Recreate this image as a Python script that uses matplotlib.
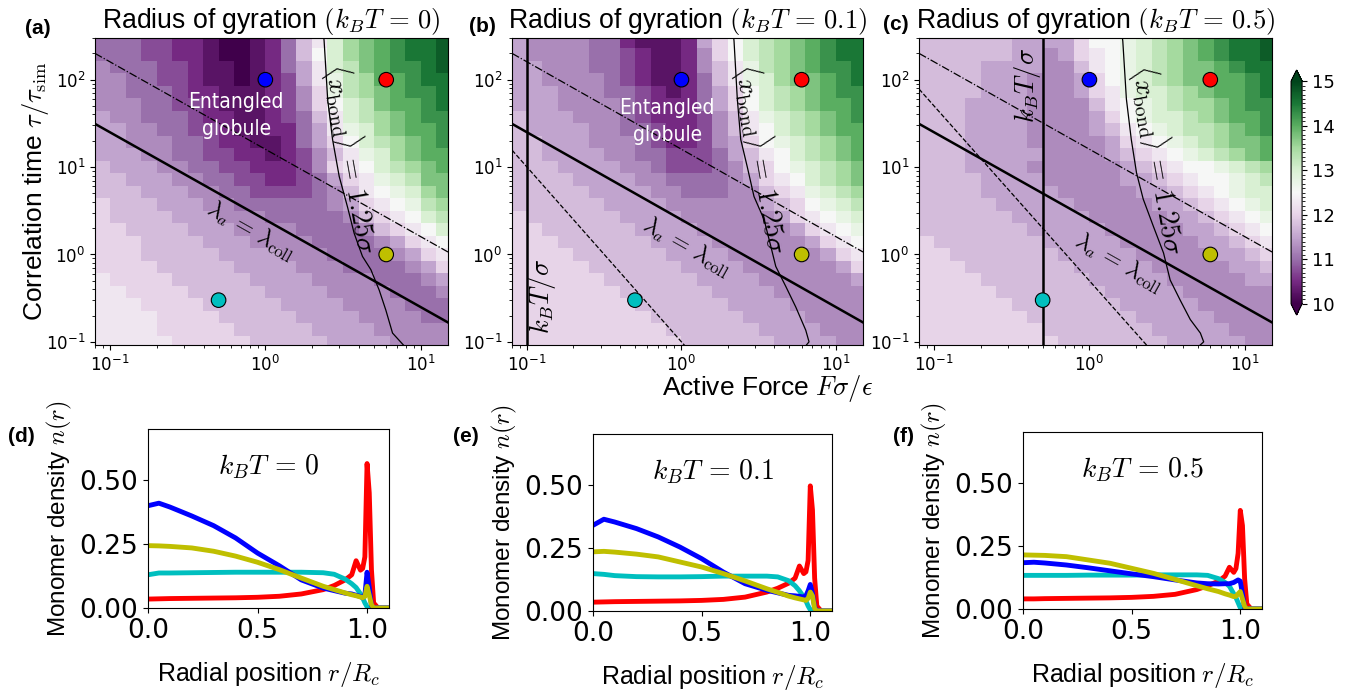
import numpy as np
import matplotlib
matplotlib.use('Agg')
import matplotlib.pyplot as plt
from matplotlib.ticker import MultipleLocator

plt.rcParams['mathtext.fontset'] = 'cm'
plt.rcParams['font.family'] = ['DejaVu Sans']

# ---------------- heatmap data (Rg), one char per cell ----------------
# level code: value = 10 + 0.25 * index in LEVELS
LEVELS = '0123456789ABCDEFGHIJK'
# cell edges (log10): F every 0.1 decade, tau every 1/7 decade
F_edges_log = [-1.1, -1.0, -0.9, -0.8, -0.7, -0.6, -0.5, -0.4, -0.3, -0.2, -0.1, 0.0,
               0.1, 0.2, 0.3, 0.4, 0.5, 0.6, 0.7, 0.8, 0.9, 1.0, 1.1, 1.2]
tau_edges_log = [(2 * k - 15) / 14 for k in range(26)]

# rows from top (tau ~ 270) to bottom (tau ~ 0.1)
rg_T0 = [
    "444332210012479CEFGHIIJ",
    "44433221001247ACEFGHIIJ",
    "544433211012469CDFGHHIJ",
    "554433211012369BDEGGHII",
    "554443221112358BDEFGHHI",
    "555443321112358ACDFGGHI",
    "6554443221123479CDEFGHH",
    "6655443321122469BCEFGGH",
    "6655544322112468ACDEFGH",
    "66655443322123579BCEFGG",
    "76665544332223589ACDEFG",
    "776665544332234689BCDFF",
    "777666554433334579ABCEF",
    "8777666554444445689ABDE",
    "87777666555444445789ACD",
    "887777666555544445789AC",
    "8887777666555544445689A",
    "88877777666655544445689",
    "88887777766665554444568",
    "98888777776666555544456",
    "99888877777666655554445",
    "99988887777766665555444",
    "99998888777776666555544",
    "99998888877777666655555",
    "99999888887777766665555",
]
rg_T01 = [
    "65555442111268ACDEFGHII",
    "65555443211258ACDEFGHII",
    "665554432112579BDEFGHHI",
    "665555432112479BCEFFGHI",
    "666555443212468ACDEFGHH",
    "666555543222468ACDEFGGH",
    "7666555432223579BCDEFGH",
    "7666655443223579ACDEFGG",
    "7766655543223568ABCDEFG",
    "77666655443334679ACDEFG",
    "77766665543334578ABCDEF",
    "777766665544445689ACDEF",
    "7777766665544455789BCDE",
    "7777776666555555678ABCD",
    "87777776666555555689ABC",
    "887777776666555555689AB",
    "8887777776666555555689A",
    "88887777776666555555689",
    "88888777777666655555568",
    "88888877777766665555556",
    "88888887777776666555555",
    "88888888777777666655555",
    "88888888877777766665555",
    "88888888887777776666555",
    "88888888888777777666655",
]
rg_T05 = [
    "77777766668AABCDEFGHIIJ",
    "777777665689ABCDEFGHIIJ",
    "777766665579ABCDEFFGHII",
    "777766655568ABCDEFFGGHI",
    "7777666555689BCCDEFGGHI",
    "7776666555579ABCDEEFGHH",
    "7776666555568ABCCDEFGGH",
    "77766665555679ABCDDEFGH",
    "777666655555689ABCDEFFG",
    "7776666655556789ABCDEFG",
    "77766665555556789AABCDE",
    "777766665555566789AABCD",
    "7777666665555566789ABCC",
    "77777666665555566789ABC",
    "777777666665555566789AB",
    "7777777666665555566789A",
    "87777777666665555566789",
    "88777777766666555556678",
    "88877777776666655555667",
    "88887777777666665555566",
    "88888777777766666555555",
    "88888877777776666655555",
    "88888887777777666665555",
    "88888888777777766666555",
    "88888888877777776666655",
]

# ---------------- lines / contours ----------------
kT_values = [0.0, 0.1, 0.5]
top_titles = [r'Radius of gyration $(k_BT\,=\,0)$',
              r'Radius of gyration $(k_BT\,=\,0.1)$',
              r'Radius of gyration $(k_BT\,=\,0.5)$']
coll_const = 2.5      # lambda_a = lambda_coll : tau = C / F
dashdot_const = 16.0  # tau = C / F

# <x_bond> = 1.25 sigma contour (F, tau)
bond_F_T0 = [2.38, 2.39, 2.52, 2.71, 2.99, 3.38, 3.73, 4.22, 4.78, 5.41, 5.97, 6.59, 7.83]
bond_tau_T0 = [300, 277, 59, 20.6, 7.8, 3.5, 1.75, 0.95, 0.67, 0.39, 0.23, 0.126, 0.09]
bond_F_T01 = [2.18, 2.19, 2.30, 2.42, 2.67, 2.95, 3.43, 3.79, 4.08, 4.74, 5.5, 6.38, 6.7, 6.38]
bond_tau_T01 = [300, 277, 60, 20.7, 10, 4.6, 2.5, 1.24, 0.73, 0.43, 0.25, 0.136, 0.1, 0.09]
bond_F_T05 = [1.63, 1.64, 1.73, 1.86, 2.01, 2.22, 2.58, 3.0, 3.31, 3.84, 4.46, 5.18, 5.44, 5.1]
bond_tau_T05 = [300, 277, 60, 20.7, 8.6, 4.3, 2.1, 1.04, 0.51, 0.3, 0.18, 0.126, 0.1, 0.09]

# selected state points
pts_F = [1.0, 6.0, 6.0, 0.5]
pts_tau = [100, 100, 1.0, 0.3]
pts_col = ['b', 'r', 'y', 'c']

# label positions
bond_lbl = [(3.6, 12.5), (3.32, 12.5), (2.8, 12.2)]
coll_lbl = [(0.8, 1.85), (1.08, 1.2), (1.54, 0.8)]
kT_lbl = [None, (0.126, 0.33), (0.40, 85)]
glob_lbl = [(0.65, 39), (0.81, 33), None]

# ---------------- density profiles ----------------
r_pts = [0, 0.05, 0.1, 0.2, 0.3, 0.4, 0.5, 0.6, 0.7, 0.8, 0.85, 0.9, 0.93, 0.95,
         0.97, 0.98, 0.99, 1.0, 1.01, 1.02, 1.03, 1.05, 1.1]
dens_T0 = {
    'r': [0.035, 0.036, 0.037, 0.038, 0.039, 0.040, 0.042, 0.046, 0.055, 0.072, 0.088, 0.11,
          0.13, 0.185, 0.148, 0.155, 0.20, 0.565, 0.45, 0.15, 0.02, 0.0, 0.0],
    'c': [0.13, 0.137, 0.137, 0.138, 0.139, 0.14, 0.14, 0.14, 0.14, 0.138, 0.132, 0.113,
          0.095, 0.08, 0.055, 0.04, 0.02, 0.005, 0.0, 0.0, 0.0, 0.0, 0.0],
    'b': [0.40, 0.41, 0.395, 0.36, 0.322, 0.274, 0.215, 0.165, 0.11, 0.078, 0.068, 0.058,
          0.055, 0.05, 0.045, 0.04, 0.05, 0.14, 0.08, 0.01, 0.0, 0.0, 0.0],
    'y': [0.244, 0.243, 0.241, 0.235, 0.222, 0.203, 0.179, 0.15, 0.117, 0.085, 0.072, 0.059,
          0.052, 0.048, 0.043, 0.04, 0.045, 0.085, 0.05, 0.013, 0.0, 0.0, 0.0],
}
dens_T01 = {
    'r': [0.035, 0.036, 0.037, 0.038, 0.039, 0.04, 0.042, 0.046, 0.055, 0.075, 0.09, 0.11,
          0.13, 0.178, 0.148, 0.155, 0.2, 0.495, 0.4, 0.13, 0.02, 0.0, 0.0],
    'c': [0.148, 0.145, 0.14, 0.136, 0.135, 0.135, 0.136, 0.138, 0.138, 0.138, 0.135, 0.12,
          0.1, 0.08, 0.055, 0.04, 0.02, 0.005, 0.0, 0.0, 0.0, 0.0, 0.0],
    'b': [0.339, 0.363, 0.352, 0.326, 0.293, 0.253, 0.207, 0.154, 0.108, 0.082, 0.072, 0.062,
          0.06, 0.058, 0.055, 0.06, 0.08, 0.105, 0.07, 0.015, 0.0, 0.0, 0.0],
    'y': [0.234, 0.236, 0.233, 0.225, 0.214, 0.194, 0.174, 0.148, 0.119, 0.088, 0.074, 0.059,
          0.052, 0.048, 0.044, 0.042, 0.05, 0.075, 0.06, 0.01, 0.0, 0.0, 0.0],
}
dens_T05 = {
    'r': [0.04, 0.04, 0.041, 0.042, 0.043, 0.044, 0.046, 0.05, 0.058, 0.077, 0.092, 0.11,
          0.13, 0.165, 0.145, 0.16, 0.22, 0.39, 0.33, 0.12, 0.02, 0.0, 0.0],
    'c': [0.133, 0.133, 0.133, 0.133, 0.134, 0.134, 0.134, 0.135, 0.135, 0.135, 0.133, 0.12,
          0.105, 0.09, 0.06, 0.045, 0.025, 0.005, 0.0, 0.0, 0.0, 0.0, 0.0],
    'b': [0.183, 0.185, 0.182, 0.174, 0.163, 0.151, 0.139, 0.128, 0.115, 0.103, 0.1, 0.099,
          0.1, 0.1, 0.105, 0.11, 0.115, 0.11, 0.06, 0.005, 0.0, 0.0, 0.0],
    'y': [0.214, 0.213, 0.212, 0.207, 0.194, 0.181, 0.161, 0.141, 0.117, 0.092, 0.08, 0.069,
          0.06, 0.055, 0.049, 0.05, 0.06, 0.069, 0.04, 0.01, 0.0, 0.0, 0.0],
}
bottom_labels = [r'$k_BT\,=\,0$', r'$k_BT\,=\,0.1$', r'$k_BT\,=\,0.5$']

SANS = ['Liberation Sans', 'DejaVu Sans']


def decode(rows):
    arr = np.array([[10 + 0.25 * LEVELS.index(c) for c in row] for row in rows])
    return arr[::-1]  # bottom row first


fig = plt.figure(figsize=(13.45, 6.96), dpi=100)

top_pos = [[0.0706, 0.5043, 0.2625, 0.4411],
           [0.3807, 0.5043, 0.2610, 0.4411],
           [0.6833, 0.5043, 0.2625, 0.4411]]
grids = [rg_T0, rg_T01, rg_T05]
bonds = [(bond_F_T0, bond_tau_T0), (bond_F_T01, bond_tau_T01), (bond_F_T05, bond_tau_T05)]
Fe = 10.0 ** np.array(F_edges_log)
te = 10.0 ** np.array(tau_edges_log)
xlim = (0.08, 15)
ylim = (0.092, 300)

mesh = None
for k in range(3):
    ax = fig.add_axes(top_pos[k])
    mesh = ax.pcolormesh(Fe, te, decode(grids[k]), cmap='PRGn', vmin=10, vmax=15,
                         shading='flat')
    ax.set_xscale('log')
    ax.set_yscale('log')
    ax.set_xlim(*xlim)
    ax.set_ylim(*ylim)
    Fl = np.array(xlim)
    ax.plot(Fl, coll_const / Fl, 'k-', lw=1.8)
    ax.plot(Fl, dashdot_const / Fl, 'k-.', lw=0.9)
    ax.plot(bonds[k][0], bonds[k][1], 'k-', lw=0.9)
    kT = kT_values[k]
    if kT > 0:
        Fd = np.array([0.08, 15])
        ax.plot(Fd, kT / Fd ** 2, 'k--', lw=0.9)
        ax.axvline(kT, color='k', lw=1.8)
        ax.text(*kT_lbl[k], r'$k_BT/\sigma$', rotation=90, fontsize=19,
                ha='center', va='center')
    ax.scatter(pts_F, pts_tau, c=pts_col, s=110, edgecolors='k', linewidths=0.8, zorder=5)

    # rotation of the lambda label along the 1/F line
    p1 = ax.transData.transform((1, coll_const))
    p2 = ax.transData.transform((10, coll_const / 10))
    ang = np.degrees(np.arctan2(p2[1] - p1[1], p2[0] - p1[0]))
    ax.text(*coll_lbl[k], r'$\lambda_a\,=\,\lambda_{\rm coll}$', rotation=ang, fontsize=17,
            ha='center', va='center', rotation_mode='anchor')
    ax.text(*bond_lbl[k], r'$\langle x_{\rm bond}\rangle\,=\,1.25\sigma$', rotation=-80,
            fontsize=20, ha='center', va='center', rotation_mode='anchor')
    if glob_lbl[k] is not None:
        ax.text(*glob_lbl[k], 'Entangled\nglobule', color='white', fontsize=15,
                family='DejaVu Sans', fontstretch='condensed',
                ha='center', va='center', linespacing=1.45)
    ax.tick_params(labelsize=12)
    ax.set_title(top_titles[k], fontsize=19.2, family=SANS, pad=7)
    if k == 0:
        ax.set_ylabel(r'Correlation time $\tau/\tau_{\rm sim}$', fontsize=19, family=SANS,
                      labelpad=-4)

fig.text(0.571, 0.4425, r'Active Force $F\sigma/\epsilon$', fontsize=19, family=SANS,
         ha='center', va='center')

cax = fig.add_axes([0.9599, 0.5474, 0.0082, 0.352])
cb = fig.colorbar(mesh, cax=cax, extend='both', ticks=[10, 11, 12, 13, 14, 15])
cb.ax.tick_params(labelsize=13)
cb.ax.yaxis.set_minor_locator(MultipleLocator(0.1))
cb.outline.set_linewidth(0.8)

# ---------------- bottom panels ----------------
bot_pos = [[0.1100, 0.1264, 0.1792, 0.2572],
           [0.4409, 0.1221, 0.1777, 0.2543],
           [0.7606, 0.1250, 0.1777, 0.2543]]
dens = [dens_T0, dens_T01, dens_T05]
for k in range(3):
    ax = fig.add_axes(bot_pos[k])
    for col in ['r', 'c', 'b', 'y']:
        ax.plot(r_pts, dens[k][col], color=col, lw=3.5)
    ax.set_xlim(0, 1.1)
    ax.set_ylim(0, 0.7)
    ax.set_xticks([0.0, 0.5, 1.0])
    ax.set_yticks([0.0, 0.25, 0.5])
    ax.set_yticklabels(['0.00', '0.25', '0.50'])
    ax.set_xticklabels(['0.0', '0.5', '1.0'])
    ax.tick_params(labelsize=19)
    ax.text(0.5, 0.79, bottom_labels[k], transform=ax.transAxes, fontsize=20,
            ha='center', va='center')
    ax.set_ylabel(r'Monomer density $n(r)$', fontsize=17.5, family=SANS)
    ax.set_xlabel(r'Radial position $r/R_c$', fontsize=18, family=SANS, labelpad=12)

# panel letters
letters = [('(a)', 25, 28), ('(b)', 469, 27), ('(c)', 883, 25),
           ('(d)', 8, 437), ('(e)', 453, 437), ('(f)', 893, 437)]
for s, px, py in letters:
    fig.text(px / 1345, 1 - py / 696, s, fontsize=15, fontweight='bold', family=SANS,
             ha='left', va='center')

fig.savefig('out.png', dpi=100)
